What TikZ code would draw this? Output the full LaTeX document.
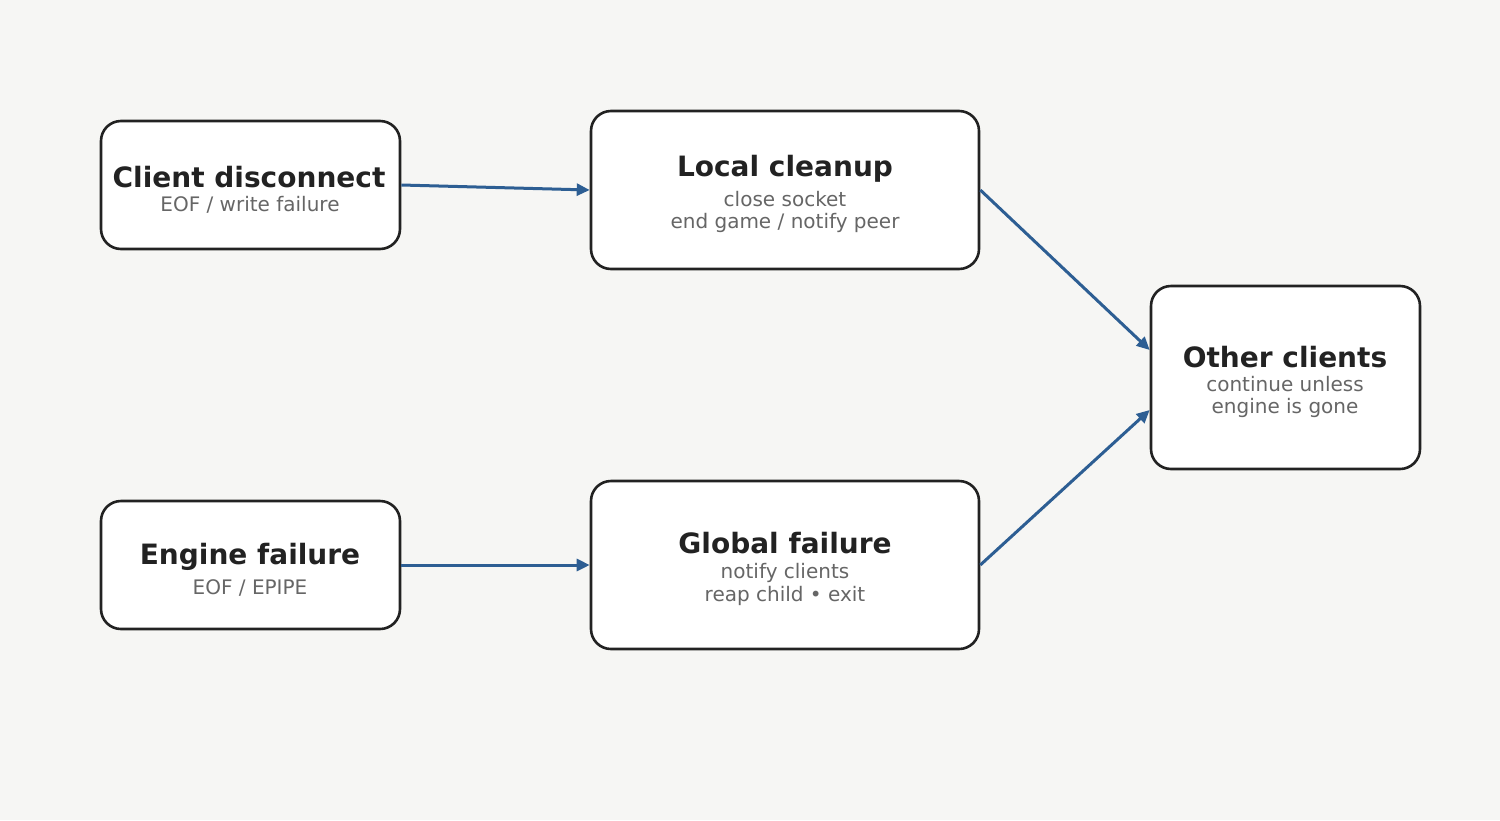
\documentclass[tikz,border=0pt]{standalone}
\usepackage{fontspec}
\setmainfont{DejaVu Sans}
\usetikzlibrary{arrows.meta}
\definecolor{bgc}{HTML}{F6F6F4}
\definecolor{edgec}{HTML}{222222}
\definecolor{titlec}{HTML}{222222}
\definecolor{subc}{HTML}{666666}
\definecolor{arrc}{HTML}{2D5E93}
\tikzset{
  card/.style={draw=edgec, line width=2.6pt, fill=white, rounded corners=20pt, inner sep=0pt},
  ttl/.style={anchor=base, inner sep=0pt, text=titlec, font=\bfseries\fontsize{28}{33}\selectfont},
  sub/.style={anchor=base, inner sep=0pt, text=subc, font=\fontsize{20}{23}\selectfont},
  flow/.style={draw=arrc, line width=3pt, -{Triangle[length=13pt,width=12pt]}}
}
\begin{document}
\begin{tikzpicture}[x=1pt,y=-1pt]
\fill[bgc] (0,0) rectangle (1500,820);
\useasboundingbox (0,0) rectangle (1500,820);
% boxes
\node[card, minimum width=299pt, minimum height=128pt] (cd) at (250.5,185) {};
\node[card, minimum width=388pt, minimum height=158pt] (lc) at (785,190) {};
\node[card, minimum width=269pt, minimum height=183pt] (oc) at (1285.5,377.5) {};
\node[card, minimum width=299pt, minimum height=128pt] (ef) at (250.5,565) {};
\node[card, minimum width=388pt, minimum height=168pt] (gf) at (785,565) {};
% texts
\node[ttl] (cdt) at (249,187) {Client disconnect};
\node[sub] (cds) at (250,211) {EOF / write failure};
\node[ttl] (lct) at (785,176) {Local cleanup};
\node[sub] (lcs1) at (785,206) {close socket};
\node[sub] (lcs2) at (785,228) {end game / notify peer};
\node[ttl] (oct) at (1285,367) {Other clients};
\node[sub] (ocs1) at (1285,391) {continue unless};
\node[sub] (ocs2) at (1285,413) {engine is gone};
\node[ttl] (eft) at (250,564) {Engine failure};
\node[sub] (efs) at (250,594) {EOF / EPIPE};
\node[ttl] (gft) at (785,553) {Global failure};
\node[sub] (gfs1) at (785,578) {notify clients};
\node[sub] (gfs2) at (785,601) {reap child • exit};
% connectors
\draw[flow] (cd.east) -- (lc.west);
\draw[flow] (ef.east) -- (gf.west);
\draw[flow] (lc.east) -- ([yshift=27.5pt]oc.west);
\draw[flow] (gf.east) -- ([yshift=-32.5pt]oc.west);
\end{tikzpicture}
\end{document}
